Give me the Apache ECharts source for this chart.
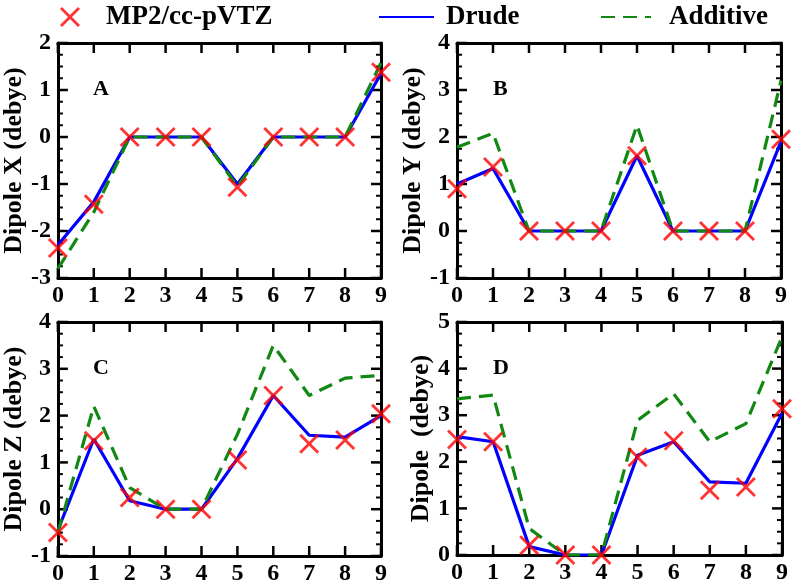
<!DOCTYPE html>
<html><head><meta charset="utf-8">
<script src="https://cdn.jsdelivr.net/npm/echarts@6/dist/echarts.min.js"></script>
<style>html,body{margin:0;padding:0;background:#fff}#c{width:800px;height:588px}</style>
</head><body><div id="c"></div>
<script>
const xValues = [0, 1, 2, 3, 4, 5, 6, 7, 8, 9];
const seriesNames = ['MP2/cc-pVTZ', 'Drude', 'Additive'];
const panelLetters = ['A', 'B', 'C', 'D'];
const yTitles = ['Dipole X (debye)', 'Dipole Y (debye)', 'Dipole Z (debye)', 'Dipole  (debye)'];
const yRanges = [[-3, 2], [-1, 4], [-1, 4], [0, 5]];

const mp2X    = [-2.36, -1.43, 0, 0, 0, -1.07, 0, 0, 0, 1.38];
const drudeX  = [-2.30, -1.38, 0, 0, 0, -1.00, 0, 0, 0, 1.35];
const addX    = [-2.80, -1.60, 0, 0, 0, -1.05, 0, 0, 0, 1.58];

const mp2Y    = [0.90, 1.36, 0, 0, 0, 1.60, 0, 0, 0, 1.95];
const drudeY  = [1.00, 1.33, 0, 0, 0, 1.60, 0, 0, 0, 1.90];
const addY    = [1.78, 2.08, 0, 0, 0, 2.25, 0, 0, 0, 3.20];

const mp2Z    = [-0.50, 1.46, 0.25, 0, 0, 1.05, 2.43, 1.40, 1.48, 2.04];
const drudeZ  = [-0.45, 1.50, 0.18, 0, 0, 1.08, 2.43, 1.58, 1.54, 2.00];
const addZ    = [-0.50, 2.20, 0.46, 0, 0, 1.60, 3.50, 2.43, 2.80, 2.86];

const mp2D    = [2.48, 2.43, 0.21, 0, 0, 2.10, 2.45, 1.39, 1.46, 3.14];
const drudeD  = [2.54, 2.43, 0.18, 0, 0, 2.14, 2.43, 1.57, 1.54, 3.04];
const addD    = [3.35, 3.43, 0.57, 0, 0, 2.89, 3.46, 2.43, 2.82, 4.68];

const panelData = [
  [mp2X, drudeX, addX],
  [mp2Y, drudeY, addY],
  [mp2Z, drudeZ, addZ],
  [mp2D, drudeD, addD]
];

const FONT = '"Liberation Serif", "Times New Roman", serif';
const crossPath = 'path://M0,2 L2,0 L10,8 L18,0 L20,2 L12,10 L20,18 L18,20 L10,12 L2,20 L0,18 L8,10 Z';
const grids = [
  {left: 57, top: 43, width: 324, height: 235},
  {left: 457, top: 43, width: 324, height: 235},
  {left: 57, top: 322, width: 324, height: 234},
  {left: 457, top: 322, width: 325, height: 233}
];

const xAxes = [], yAxes = [], series = [], graphics = [];
const lineAx = () => ({show: true, onZero: false, lineStyle: {color: '#000', width: 3}});
const lbl = (m) => ({margin: m, showMinLabel: true, showMaxLabel: true,
  fontFamily: FONT, fontWeight: 'bold', fontSize: 24, color: '#000'});

grids.forEach((g, i) => {
  const [ymin, ymax] = yRanges[i];
  xAxes.push({gridIndex: i, type: 'value', min: 0, max: 9, interval: 1, position: 'bottom',
    axisLine: lineAx(), axisTick: {show: false}, splitLine: {show: false}, axisLabel: lbl(6)});
  xAxes.push({gridIndex: i, type: 'value', min: 0, max: 9, interval: 1, position: 'top',
    axisLine: lineAx(), axisTick: {show: false}, splitLine: {show: false}, axisLabel: {show: false}});
  yAxes.push({gridIndex: i, type: 'value', min: ymin, max: ymax, interval: 1, position: 'left',
    axisLine: lineAx(), axisTick: {show: false}, splitLine: {show: false},
    axisLabel: lbl(7),
    name: yTitles[i], nameLocation: 'middle', nameGap: 18,
    nameTextStyle: {fontFamily: FONT, fontWeight: 'bold', fontSize: 26, color: '#000'}});
  yAxes.push({gridIndex: i, type: 'value', min: ymin, max: ymax, interval: 1, position: 'right',
    axisLine: lineAx(), axisTick: {show: false}, splitLine: {show: false}, axisLabel: {show: false}});

  // inward tick marks on all four sides, placed through the axis scales
  const tickItems = xValues.map(x => [x, 0]);
  for (let k = 0; k <= (ymax - ymin) * 4; k++) {
    const v = ymin + k * 0.25;
    tickItems.push([v, k % 4 === 0 ? 1 : 2]);
  }
  series.push({type: 'custom', xAxisIndex: 2 * i, yAxisIndex: 2 * i, z: 1, silent: true,
    data: tickItems,
    renderItem: (params, api) => {
      const v = api.value(0), kind = api.value(1);
      const st = {stroke: '#000', lineWidth: kind === 2 ? 2 : 2.5};
      if (kind === 0) {
        const b = api.coord([v, ymin]), t = api.coord([v, ymax]);
        return {type: 'group', children: [
          {type: 'line', shape: {x1: b[0], y1: b[1], x2: b[0], y2: b[1] - 10}, style: st},
          {type: 'line', shape: {x1: t[0], y1: t[1], x2: t[0], y2: t[1] + 10}, style: st}
        ]};
      }
      const len = kind === 1 ? 10 : 5;
      const l = api.coord([0, v]), r = api.coord([9, v]);
      return {type: 'group', children: [
        {type: 'line', shape: {x1: l[0], y1: l[1], x2: l[0] + len, y2: l[1]}, style: st},
        {type: 'line', shape: {x1: r[0], y1: r[1], x2: r[0] - len, y2: r[1]}, style: st}
      ]};
    }});

  const [mp2, drude, add] = panelData[i];
  const toPts = arr => xValues.map((x, k) => [x, arr[k]]);
  series.push({name: seriesNames[1], type: 'line', xAxisIndex: 2 * i, yAxisIndex: 2 * i,
    data: toPts(drude), symbol: 'none', lineStyle: {color: '#0000ff', width: 3.2}, itemStyle: {color: '#0000ff'}, z: 2});
  series.push({name: seriesNames[2], type: 'line', xAxisIndex: 2 * i, yAxisIndex: 2 * i,
    data: toPts(add), symbol: 'none', lineStyle: {color: '#118811', width: 3.2, type: [14, 8]}, itemStyle: {color: '#118811'}, z: 3});
  series.push({name: seriesNames[0], type: 'scatter', xAxisIndex: 2 * i, yAxisIndex: 2 * i,
    data: toPts(mp2), symbol: crossPath, symbolSize: 20, clip: false, itemStyle: {color: '#ff0000'}, z: 4});
  graphics.push({type: 'text', left: g.left + 36, top: g.top + 35,
    style: {text: panelLetters[i], font: 'bold 22px ' + FONT, fill: '#000'}});
});

const legText = () => ({fontFamily: FONT, fontWeight: 'bold', fontSize: 27, color: '#000', lineHeight: 28});
const noSym = () => ({color: 'transparent', borderWidth: 0});
const option = {
  animation: false,
  backgroundColor: '#fff',
  grid: grids,
  xAxis: xAxes,
  yAxis: yAxes,
  series: series,
  graphic: graphics,
  legend: [
    {data: [{name: seriesNames[0], icon: crossPath}], left: 60, top: 3, padding: 0, itemWidth: 20, itemHeight: 20,
      textStyle: Object.assign({padding: [0, 0, 0, 21]}, legText()), selectedMode: false},
    {data: [seriesNames[1]], left: 378, top: 3, padding: 0, itemWidth: 55, itemHeight: 14, itemStyle: noSym(),
      textStyle: Object.assign({padding: [0, 0, 0, 7]}, legText()), selectedMode: false},
    {data: [seriesNames[2]], left: 600, top: 3, padding: 0, itemWidth: 50, itemHeight: 14, itemStyle: noSym(),
      textStyle: Object.assign({padding: [0, 0, 0, 13]}, legText()), selectedMode: false}
  ]
};
const chart = echarts.init(document.getElementById('c'), null, {renderer: 'canvas'});
chart.setOption(option);
</script></body></html>
